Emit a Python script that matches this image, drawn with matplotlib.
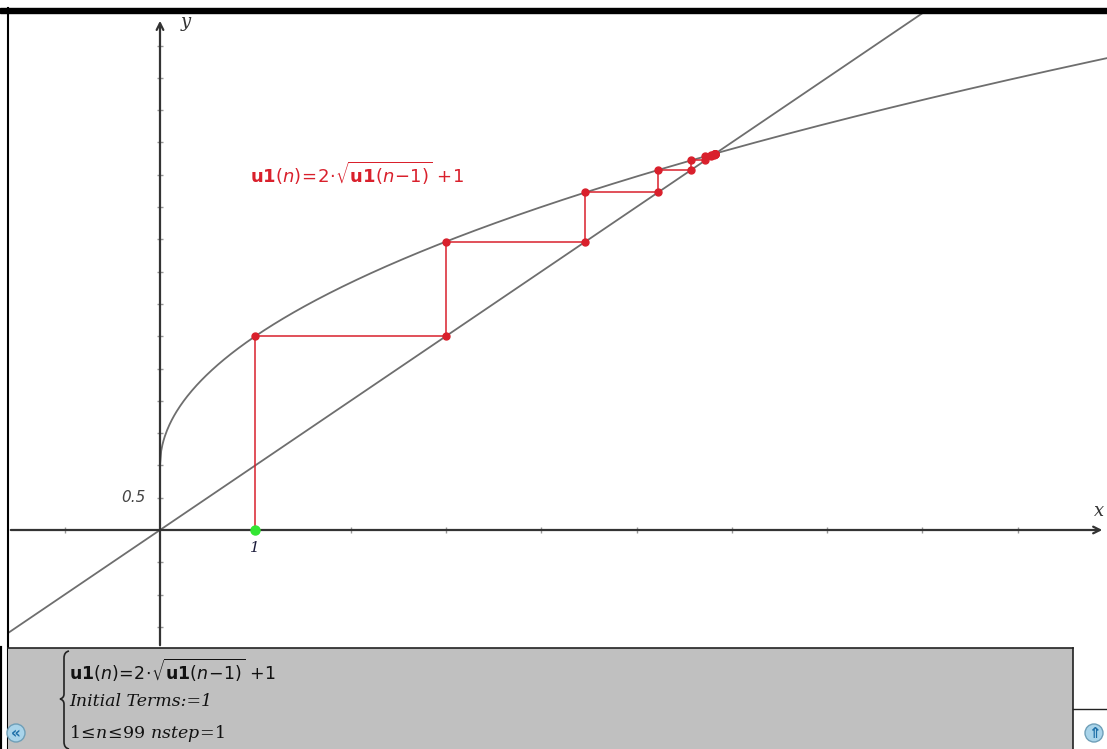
import numpy as np
import matplotlib
matplotlib.use("Agg")
import matplotlib.pyplot as plt
from matplotlib.patches import Rectangle, Circle, PathPatch
from matplotlib.path import Path
from matplotlib.lines import Line2D
from matplotlib.transforms import IdentityTransform

# terms of u1(n) = 2*sqrt(u1(n-1)) + 1, u1(1) = 1
terms = [1.0, 3.0, 4.464, 5.226, 5.572, 5.721, 5.784, 5.810, 5.821, 5.825, 5.827, 5.828]
x_ticks = [-1, 1, 2, 3, 4, 5, 6, 7, 8, 9]
y_ticks = [-1.5, -1.0, -0.5, 0.5, 1.0, 1.5, 2.0, 2.5, 3.0, 3.5, 4.0, 4.5, 5.0, 5.5, 6.0, 6.5, 7.0, 7.5]

W, H = 1107, 749
ox, oy = 160.0, 530.0      # origin in pixels
sx, sy = 95.3, 64.6        # pixels per unit


def fx(px):
    return px / W


def fy(py):
    return 1 - py / H


fig = plt.figure(figsize=(W / 100, H / 100), dpi=100)
fig.patch.set_facecolor("white")

top_px, bot_px = 13, 648
ax = fig.add_axes([fx(8), fy(bot_px), fx(W) - fx(8), fy(top_px) - fy(bot_px)])
ax.set_xlim((8 - ox) / sx, (W - ox) / sx)
ax.set_ylim((oy - bot_px) / sy, (oy - top_px) / sy)
ax.axis("off")

xmin, xmax = ax.get_xlim()
ymin, ymax = ax.get_ylim()

axis_col = "#333333"
curve_col = "#6e6e6e"
red = "#d9202c"

# axes with arrows
ax.annotate("", xy=(xmax - 0.02, 0), xytext=(xmin, 0),
            arrowprops=dict(arrowstyle="->", lw=1.6, color=axis_col, mutation_scale=12))
ax.annotate("", xy=(0, (oy - 18) / sy), xytext=(0, ymin),
            arrowprops=dict(arrowstyle="->", lw=1.6, color=axis_col, mutation_scale=12))
ax.plot(x_ticks, [0] * len(x_ticks), ls="none", marker="|", ms=4, mew=1, color="#999999")
ax.plot([0] * len(y_ticks), y_ticks, ls="none", marker="_", ms=4, mew=1, color="#999999")
ax.text((181 - ox) / sx, (oy - 22) / sy, "y", fontsize=13, style="italic",
        family="DejaVu Serif", color="#333333", ha="left", va="center")
ax.text((1099 - ox) / sx, 19 / sy, "x", fontsize=13, style="italic",
        family="DejaVu Serif", color="#333333", ha="center", va="center")
ax.text((146 - ox) / sx, 0.5, "0.5", fontsize=11, style="italic",
        color="#444444", ha="right", va="center")
ax.text(1, (oy - 548) / sy, "1", fontsize=11, style="italic", family="DejaVu Serif",
        color="#1a1a3a", ha="center", va="center")

# y = x and y = 2*sqrt(x) + 1
xs = np.linspace(xmin, xmax, 400)
ax.plot(xs, xs, color=curve_col, lw=1.3)
xc = np.linspace(0, xmax, 800)
ax.plot(xc, 2 * np.sqrt(xc) + 1, color=curve_col, lw=1.3)

# cobweb path
px = [terms[0]]
py = [0.0]
for a, b in zip(terms[:-1], terms[1:]):
    px += [a, b]
    py += [b, b]
ax.plot(px, py, color=red, lw=1.1, zorder=3)
ax.plot(px[1:], py[1:], ls="none", marker="o", ms=5, color=red, zorder=4)
ax.plot([terms[0]], [0], ls="none", marker="o", ms=6.5, color="#33e633", zorder=5)

ax.text((250 - ox) / sx, (oy - 173) / sy,
        r"$\mathbf{u1}(n)\!=\!2\!\cdot\!\sqrt{\mathbf{u1}(n\!-\!1)}\,+\!1$",
        fontsize=13, color=red, ha="left", va="center")

# frame: top bar and left border
fig.patches.append(Rectangle((0, fy(13)), 1, fy(8) - fy(13), transform=fig.transFigure,
                             color="black", zorder=10))
fig.lines.append(Line2D([fx(8), fx(8)], [0, fy(8)], transform=fig.transFigure,
                        color="black", lw=1.5, zorder=10))

# entry line panel
fig.patches.append(Rectangle((fx(8), 0), fx(1073) - fx(8), fy(648), transform=fig.transFigure,
                             facecolor="#c0c0c0", edgecolor="none", zorder=10))
fig.lines.append(Line2D([fx(8), fx(1073)], [fy(648), fy(648)], transform=fig.transFigure,
                        color="#222222", lw=1.2, zorder=11))
fig.lines.append(Line2D([fx(1073), fx(1073)], [0, fy(648)], transform=fig.transFigure,
                        color="#222222", lw=1.2, zorder=11))
fig.lines.append(Line2D([fx(1073), 1], [fy(709), fy(709)], transform=fig.transFigure,
                        color="#222222", lw=1.0, zorder=11))
fig.lines.append(Line2D([0, 0], [0, fy(648)], transform=fig.transFigure,
                        color="black", lw=3, zorder=11))

# curly brace grouping the three lines
bx = 64
brace = [(bx + 5, 651), (bx, 652), (bx, 658), (bx, 694), (bx, 698), (bx - 4, 699),
         (bx, 700), (bx, 704), (bx, 742), (bx, 748), (bx + 5, 749)]
codes = [Path.MOVETO, Path.CURVE3, Path.CURVE3, Path.LINETO, Path.CURVE3, Path.CURVE3,
         Path.CURVE3, Path.CURVE3, Path.LINETO, Path.CURVE3, Path.CURVE3]
fig.patches.append(PathPatch(Path([(fx(a), fy(b)) for a, b in brace], codes),
                             transform=fig.transFigure, facecolor="none",
                             edgecolor="#222222", lw=1.2, zorder=12))

fig.text(fx(69), fy(670), r"$\mathbf{u1}(n)\!=\!2\!\cdot\!\sqrt{\mathbf{u1}(n\!-\!1)}\,+\!1$",
         fontsize=12.5, color="#111111", ha="left", va="center", zorder=12)
fig.text(fx(69), fy(702), "Initial Terms:=1", fontsize=12.5, family="DejaVu Serif",
         style="italic", color="#111111", ha="left", va="center", zorder=12)
fig.text(fx(69), fy(733), r"$1\!\leq\! n\!\leq\! 99\ nstep\!=\!1$", fontsize=12.5,
         math_fontfamily="dejavuserif", color="#111111", ha="left", va="center", zorder=12)

# navigation buttons (pixel-sized circles)
for cxp, sym in [(16, "«"), (1094, "⇑")]:
    fig.add_artist(Circle((cxp, H - 733), radius=9, transform=IdentityTransform(),
                          facecolor="#a9d4ea", edgecolor="#6f9fb8", lw=1.0, zorder=12))
    fig.text(fx(cxp), fy(734), sym, fontsize=11, fontweight="bold", color="#1d6fa8",
             ha="center", va="center", zorder=13)

fig.savefig("out.png", dpi=100)
